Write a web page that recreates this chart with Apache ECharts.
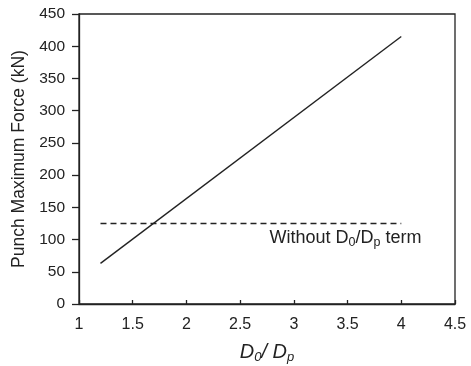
<!DOCTYPE html>
<html><head><meta charset="utf-8">
<script src="https://cdn.jsdelivr.net/npm/echarts@6/dist/echarts.min.js"></script>
<style>html,body{margin:0;padding:0;background:#fff}#c{width:471px;height:366px}</style>
</head><body><div id="c"></div>
<script>
const ratioX = [1.2, 4.0];
const forceY = [63, 415];
const withoutX = [1.2, 4.0];
const withoutY = [125, 125];
const noteAt = [3.48, 103];

const ink = '#222222';
const font = 'Liberation Sans, Arial, sans-serif';
const chart = echarts.init(document.getElementById('c'));
chart.setOption({
  animation: false,
  grid: {left: 79, right: 16, top: 14, bottom: 62, containLabel: false, outerBoundsMode: 'none',
         show: true, borderColor: ink, borderWidth: 1.3},
  xAxis: {
    type: 'value', min: 1, max: 4.5, interval: 0.5,
    axisLine: {lineStyle: {color: ink, width: 1.3}},
    axisTick: {inside: true, length: 4, lineStyle: {color: ink, width: 1.3}},
    splitLine: {show: false},
    axisLabel: {color: ink, fontSize: 16, fontFamily: font, margin: 13,
      formatter: v => String(v)},
    name: '{i|D}{s|0}{i|/ D}{s|p}',
    nameLocation: 'middle', nameGap: 37,
    nameTextStyle: {color: ink, fontFamily: font, rich: {
      i: {fontSize: 20, fontStyle: 'italic', fontFamily: font, color: ink},
      s: {fontSize: 13, fontStyle: 'italic', fontFamily: font, color: ink, padding: [10, 0, 0, 0]}
    }}
  },
  yAxis: {
    type: 'value', min: 0, max: 450, interval: 50,
    axisLine: {show: true, lineStyle: {color: ink, width: 1.3}},
    axisTick: {show: true, length: 7, lineStyle: {color: ink, width: 1.3}},
    splitLine: {show: false},
    axisLabel: {color: ink, fontSize: 15.5, fontFamily: font, margin: 14},
    name: 'Punch Maximum Force (kN)', nameLocation: 'middle', nameGap: 50,
    nameTextStyle: {color: ink, fontSize: 17.5, fontFamily: font}
  },
  series: [
    {type: 'line', data: ratioX.map((x, i) => [x, forceY[i]]), symbol: 'none',
     lineStyle: {color: ink, width: 1.4}},
    {type: 'line', data: withoutX.map((x, i) => [x, withoutY[i]]), symbol: 'none',
     lineStyle: {color: ink, width: 1.4, type: [6, 4]}},
    {type: 'scatter', data: [noteAt], symbolSize: 1, silent: true,
     itemStyle: {opacity: 0},
     label: {show: true, position: 'inside', color: ink, opacity: 1,
       formatter: '{t|Without D}{s|0}{t|/D}{s|p}{t| term}',
       rich: {
         t: {fontSize: 18, fontFamily: font, color: ink},
         s: {fontSize: 12.5, fontFamily: font, color: ink, padding: [9, 0, 0, 0]}
       }}}
  ]
});
</script></body></html>
